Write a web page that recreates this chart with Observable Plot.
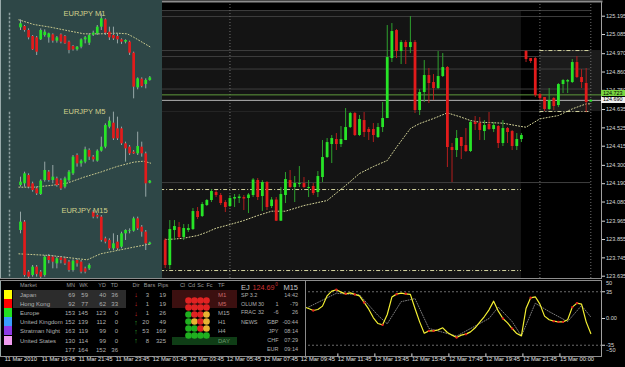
<!DOCTYPE html>
<html><head><meta charset="utf-8">
<script src="https://cdn.jsdelivr.net/npm/d3@7"></script>
<script src="https://cdn.jsdelivr.net/npm/@observablehq/plot@0.6"></script>
<style>
html,body{margin:0;padding:0;background:#000;}
#wrap{position:relative;width:625px;height:367px;overflow:hidden;background:#000;font-family:"Liberation Sans",Arial,sans-serif;}
#wrap svg{position:absolute;}
.box{position:absolute;}
</style></head><body><div id="wrap"></div>
<script>
// ---------- main chart: EURJPY M15 candles (bar index 0..92) ----------
const barOpen = [123.849,123.699,123.909,123.927,123.867,123.909,123.915,124.023,123.993,124.059,
124.089,124.137,124.119,124.077,124.053,124.098,124.101,124.107,124.101,124.119,
124.209,124.113,124.197,124.053,124.092,123.965,124.119,124.209,124.167,124.185,
124.191,124.161,124.173,124.137,124.227,124.347,124.425,124.455,124.425,124.449,
124.527,124.611,124.479,124.569,124.515,124.515,124.467,124.527,124.581,124.941,
125.109,124.983,125.037,125.007,125.037,124.629,124.737,124.839,124.797,124.761,
124.833,124.887,124.407,124.389,124.467,124.419,124.383,124.557,124.551,124.503,
124.545,124.515,124.533,124.431,124.521,124.503,124.413,124.455,124.983,124.941,
124.941,124.725,124.707,124.635,124.701,124.659,124.785,124.800,124.797,124.917,
124.827,124.791,124.680];
const barClose = [123.699,123.915,123.933,123.867,123.921,123.921,124.023,123.987,124.065,124.089,
124.143,124.119,124.071,124.047,124.101,124.107,124.110,124.098,124.122,124.212,
124.107,124.197,124.047,124.092,123.965,124.125,124.215,124.167,124.191,124.191,
124.167,124.167,124.131,124.233,124.347,124.437,124.461,124.425,124.455,124.527,
124.611,124.479,124.575,124.497,124.497,124.479,124.527,124.581,124.947,125.103,
124.983,125.037,125.007,125.037,124.629,124.737,124.839,124.791,124.761,124.833,
124.887,124.407,124.389,124.461,124.413,124.383,124.557,124.545,124.509,124.539,
124.515,124.539,124.431,124.521,124.497,124.413,124.455,124.479,124.935,124.923,
124.719,124.701,124.635,124.689,124.653,124.785,124.809,124.809,124.917,124.827,
124.797,124.677,124.690];
const barHigh = [123.861,123.969,123.969,123.957,123.945,123.945,124.041,124.047,124.077,124.095,
124.155,124.149,124.131,124.089,124.119,124.125,124.125,124.119,124.131,124.221,
124.221,124.209,124.203,124.107,124.107,124.167,124.257,124.269,124.233,124.293,
124.227,124.209,124.191,124.263,124.449,124.461,124.479,124.491,124.533,124.641,
124.617,124.617,124.599,124.617,124.527,124.551,124.551,124.677,125.139,125.151,
125.115,125.049,125.049,125.193,125.049,124.755,124.929,124.881,124.845,124.983,
124.971,124.893,124.431,124.509,124.467,124.521,124.569,124.593,124.587,124.569,
124.617,124.557,124.539,124.569,124.527,124.509,124.491,124.491,124.989,124.941,
124.947,124.731,124.707,124.761,124.707,124.791,124.815,124.815,124.935,124.953,
124.875,124.881,124.695];
const barLow = [123.681,123.675,123.849,123.855,123.849,123.897,123.909,123.975,123.987,124.053,
124.077,124.107,124.059,124.017,124.047,124.047,124.071,124.029,124.011,124.107,
124.089,124.023,124.029,124.041,123.963,123.963,124.071,124.161,124.077,124.167,
124.161,124.107,124.119,124.107,124.197,124.341,124.311,124.389,124.407,124.449,
124.521,124.473,124.473,124.467,124.449,124.437,124.461,124.497,124.581,124.917,
124.941,124.905,124.905,124.971,124.611,124.599,124.677,124.671,124.689,124.755,
124.827,124.287,124.197,124.347,124.335,124.377,124.377,124.509,124.449,124.449,
124.509,124.497,124.401,124.413,124.431,124.389,124.389,124.437,124.917,124.911,
124.707,124.689,124.623,124.629,124.629,124.647,124.731,124.731,124.791,124.821,
124.761,124.617,124.677];
const maBar = [0,2,4,7,9,11,14,17,20,23,26,30,35,39,42,45,48,50,53,55,58,61,64,66,68,73,77,78,81,85,88,91,92];
const maVal = [123.855,123.858,123.863,123.879,123.899,123.923,123.945,123.969,123.999,124.025,124.025,124.059,124.089,124.179,124.251,124.293,124.329,124.409,124.521,124.551,124.581,124.615,124.589,124.569,124.559,124.553,124.533,124.529,124.579,124.599,124.639,124.669,124.669];
const yTicks = [125.195,125.085,124.970,124.860,124.750,124.635,124.525,124.415,124.300,124.190,124.080,123.965,123.855,123.745,123.635];
const gridLevels = [125.229,125.193,124.989,124.953,124.878,124.758,124.197];
const faintLevels = [124.623];
const askPrice = 124.723, bidPrice = 124.690;
const sessionBox = {start:-36, end:77, low:123.62, high:125.229};
const sessionLines = [124.155, 123.669];
const rangeBox = {start:81, end:94.3, lineEnd:92, low:124.623, high:124.989};
const vLines = [14, 81, 92];
const timeLabels = ["11 Mar 2010","11 Mar 19:45","11 Mar 21:45","11 Mar 23:45","12 Mar 01:45","12 Mar 03:45","12 Mar 05:45","12 Mar 07:45","12 Mar 09:45","12 Mar 11:45","12 Mar 13:45","12 Mar 15:45","12 Mar 17:45","12 Mar 19:45","12 Mar 21:45","15 Mar 00:00"];
const timeBars = [-35,-27,-19,-11,-3,5,13,21,29,37,45,53,61,69,77,85];

// ---------- oscillator ----------
const oscStart = 30;
const oscVal = [15.3,13.1,10.5,11.8,16.2,29.7,35.8,37.6,34.5,32.3,
33.6,31.5,29.7,21.0,12.2,0.9,-6.6,-8.3,5.2,28.0,
31.9,33.2,32.3,31.5,13.1,-4.4,-19.2,-16.2,-16.2,-14.9,
-12.2,-18.3,-21.8,-24.9,-21.8,-20.5,-17.5,-12.2,-4.8,2.6,
11.4,22.7,9.6,0,-5.7,-13.1,-19.7,-22.7,13.1,27.1,
28.4,18.8,3.1,-1.7,-3.5,-4.4,-4.4,-1.7,14.9,20.1,
18.8,-4.4,-19.7];
const oscRedBars = [32,37,39,41,43,47,50,52,57,58,63,65,73,75,79,84,85,86,88,89];
const sigBar = [31,37,42,46,48,51,54,57,63,70,72,75,77,80,83,87,90,92];
const sigVal = [15,33,31,4,-7,22,26,-13,-23,0,15,-4,-23,20,9,-4,17,2];
const oscLevels = [35,-35];

// ---------- mini charts (relative levels, [open, close, high, low]) ----------
const m1Bars = [[218,230,242,210],[222,210,225,205],[210,188,215,182],[192,152,195,150],[188,145,192,135],[182,210,215,180],[195,205,212,190],[188,200,202,172],[197,178,200,172],[178,188,192,172],[197,175,200,170],[192,170,195,168],[175,150,178,140],[162,152,165,148],[152,160,162,148],[160,182,185,155],[182,188,192,170],[172,195,200,165],[196,202,208,192],[200,220,225,195],[220,245,260,210],[242,202,245,195],[205,188,220,180],[195,185,220,180],[192,182,200,170],[182,175,185,168],[175,180,182,170],[175,142,178,135],[142,40,145,5],[38,65,68,32],[64,42,68,38],[48,60,65,35],[60,68,72,58]];
const m1MA = [[-0.4,242],[3.3,228],[7.4,220],[11.5,210],[15.7,200],[19.8,200],[23.9,202],[26.4,200],[28,190],[32.2,160]];
const m5Bars = [[45,55,70,40],[50,80,85,40],[75,40,80,35],[50,30,55,25],[35,20,40,15],[18,58,62,15],[60,90,115,55],[85,60,90,55],[60,70,105,50],[65,45,70,40],[60,35,65,30],[40,65,70,35],[60,85,90,55],[80,130,135,75],[135,110,140,100],[110,118,122,100],[115,152,160,110],[150,130,155,120],[130,122,135,115],[118,148,152,115],[148,160,190,145],[160,225,230,155],[220,238,250,215],[232,185,265,180],[215,185,250,180],[215,170,220,165],[170,155,175,115],[160,140,165,135],[145,140,150,138],[140,162,205,135],[160,140,175,130],[140,50,145,10],[52,58,60,50]];
const m5MA = [[-0.4,40],[3.3,40],[7.4,45],[11.5,52],[15.7,70],[19.8,85],[23.9,102],[28,115],[30.5,118],[32.2,112]];
const m15Bars = [[150,175,205,140],[175,15,180,10],[25,10,30,5],[15,40,45,10],[40,18,45,10],[25,10,30,5],[15,70,75,10],[72,60,78,50],[70,55,75,35],[50,65,70,35],[68,60,72,50],[65,50,70,45],[55,30,60,25],[30,58,62,25],[60,50,65,40],[55,25,60,20],[35,25,40,20],[35,45,50,30],[205,190,210,185],[195,190,200,185],[190,120,195,115],[125,115,130,110],[120,95,125,90],[95,110,140,90],[115,95,135,90],[100,140,145,95],[140,150,152,120],[148,150,155,140],[148,185,190,145],[185,155,190,150],[160,145,165,130],[145,110,150,90],[108,112,115,105]];
const m15MA = [[-0.4,80],[7.4,75],[16.5,62],[19.8,80],[23.9,90],[28,100],[32.2,110]];

// ---------- table ----------
const tableHeader = ["Market","MN","WK","YD","TD","Dir","Bars","Pips","Cl","Cd","Sc","Fc","TF"];
const markets = ["Japan","Hong Kong","Europe","United Kingdom","Stratman Night","United States"];
const marketColors = ["#ffff00","#ff0000","#22e022","#3a9cff","#8e3ae6","#f09cf0"];
const colMN = [69,92,153,152,163,130];
const colWK = [59,77,145,139,119,114];
const colYD = [40,62,123,112,99,99];
const colTD = [36,33,0,0,0,0];
const totals = [177,164,152,36];
const dirUp = [false,false,false,true,true,true];
const barsCount = [3,1,1,20,53,8];
const pipsCount = [19,19,26,49,169,325];
const timeframes = ["M1","M5","M15","H1","H4","DAY"];
const signalCols = ["Cl","Cd","Sc","Fc"];
const signals = [["r","r","r","r"],["r","r","r","r"],["g","r","r","o"],["g","o","r","o"],["g","g","r","o"],["g","g","g","g"]];
const infoRows = [["OLUM","30","1","-79"],["FRAC","32","-6","26"],["NEWS","","GBP","-00:44"],["","","JPY","08:14"],["","","CHF","07:29"],["","","EUR","09:14"]];

// ================= drawing =================
const wrap = document.getElementById("wrap");
const FONT = "Liberation Sans, Arial, sans-serif";
const up = "#27e427", dn = "#e21b1b";
const candles = barOpen.map((o,i)=>({i, o, c: barClose[i], h: barHigh[i], l: barLow[i]}));
const place = (el, left, top) => { el.style.left = left+"px"; el.style.top = top+"px"; wrap.appendChild(el); return el; };

const main = Plot.plot({
  width: 625, height: 280, marginLeft: 0, marginRight: 24, marginTop: 1, marginBottom: 2,
  style: {background: "transparent", fontFamily: FONT},
  x: {domain: [0, 92], range: [164.7, 590.3], axis: null},
  y: {domain: [123.635, 125.195], range: [275.7, 15.7], axis: null},
  marks: [
    Plot.rect([sessionBox], {x1: "start", x2: "end", y1: "low", y2: "high", fill: "#141414"}),
    Plot.rect([rangeBox], {x1: "start", x2: "end", y1: "low", y2: "high", fill: "#1b1b1b"}),
    Plot.ruleY(gridLevels, {x1: sessionBox.start, x2: 92, stroke: "#3e3e3e"}),
    Plot.ruleY(faintLevels, {x1: sessionBox.start, x2: 92, stroke: "#262626"}),
    Plot.ruleX(vLines, {stroke: "#707070", strokeDasharray: "1,2"}),
    Plot.ruleY(sessionLines, {x1: sessionBox.start, x2: sessionBox.end, stroke: "#d6d6a0", strokeDasharray: "4,2,1,2"}),
    Plot.ruleY([rangeBox.low, rangeBox.high], {x1: rangeBox.start, x2: rangeBox.lineEnd, stroke: "#d6d6a0", strokeDasharray: "4,2,1,2"}),
    Plot.ruleY([askPrice], {stroke: "#5f9a3c"}),
    Plot.ruleY([bidPrice], {stroke: "#b4b4b4"}),
    Plot.line(maBar.map((b,k)=>({b, v: maVal[k]})), {x: "b", y: "v", stroke: "#d8d89c", strokeWidth: 1, strokeDasharray: "1,2"}),
    Plot.ruleX(candles, {x: "i", y1: "l", y2: "h", stroke: d => d.c >= d.o ? "#2ea02e" : "#b21e1e", strokeWidth: 1}),
    Plot.ruleX(candles, {x: "i", y1: "o", y2: "c", stroke: d => d.c >= d.o ? up : dn, strokeWidth: 2.8}),
    Plot.frame({anchor: "right", stroke: "#a0a0a0"}),
    Plot.frame({anchor: "top", stroke: "#8c8c8c", strokeWidth: 2}),
    Plot.frame({anchor: "bottom", stroke: "#8c8c8c"}),
    Plot.axisY({ticks: yTicks, anchor: "right", label: null, tickSize: 3, tickPadding: 1.5, fontSize: 5.6, tickFormat: d3.format(".3f"), color: "#d8d8d8"})
  ]
});
place(main, 0, 0);

const oscData = oscVal.map((v,k)=>({b: oscStart + k, v}));
const oscMap = new Map(oscData.map(d=>[d.b, d.v]));
const timeMap = new Map(timeBars.map((b,i)=>[b, timeLabels[i]]));
const osc = Plot.plot({
  width: 625, height: 89, marginLeft: 0, marginRight: 24, marginTop: 2, marginBottom: 11,
  style: {background: "transparent", fontFamily: FONT},
  x: {domain: [0, 92], range: [164.7, 590.3], axis: null},
  y: {domain: [-50, 50], range: [78.2, 1.8], axis: null},
  marks: [
    Plot.ruleY(oscLevels, {stroke: "#6a6a6a", strokeDasharray: "2,2"}),
    Plot.line(sigBar.map((b,k)=>({b, v: sigVal[k]})), {x: "b", y: "v", stroke: "#9a9a9a", strokeDasharray: "1,1.5", strokeWidth: 0.8}),
    Plot.line(oscData, {x: "b", y: "v", stroke: "#f4f032", strokeWidth: 1.2}),
    Plot.dot(oscRedBars.map(b=>({b, v: oscMap.get(b)})), {x: "b", y: "v", r: 1.2, fill: "#e02020"}),
    Plot.frame({anchor: "right", stroke: "#a0a0a0"}),
    Plot.frame({anchor: "top", stroke: "#8c8c8c"}),
    Plot.frame({anchor: "bottom", stroke: "#8c8c8c"}),
    Plot.axisY({ticks: [35, 0, -35], anchor: "right", label: null, tickSize: 3, tickPadding: 1.5, fontSize: 5.6, tickFormat: d => d === 0 ? "0.00" : String(d), color: "#d8d8d8"}),
    Plot.axisY({ticks: [50], anchor: "right", label: null, tickSize: 0, tickPadding: 4.5, fontSize: 5.6, dy: 2.5, color: "#d8d8d8"}),
    Plot.axisY({ticks: [-50], anchor: "right", label: null, tickSize: 0, tickPadding: 4.5, fontSize: 5.6, dy: -6.5, color: "#d8d8d8"}),
    Plot.axisX({ticks: timeBars, anchor: "bottom", label: null, tickSize: 3, tickPadding: 0, tickFormat: d => timeMap.get(d), textAnchor: "start", dx: 1.5, dy: -2.6, fontSize: 5.8, color: "#e0e0e0"})
  ]
});
place(osc, 0, 278);

// ---------- left panel with mini charts ----------
const panel = document.createElement("div");
panel.className = "box";
panel.style.cssText += "width:162px;height:278px;background:#2e4747;border-left:1px solid #9aa;box-sizing:border-box;";
place(panel, 0, 0);
function mini(rows, ma, title, top, yRange, mTop, mBottom, titleDy) {
  const data = rows.map((r,i)=>({i, o:r[0], c:r[1], h:r[2], l:r[3]}));
  const p = Plot.plot({
    width: 162, height: 100, marginLeft: 9, marginRight: 0, marginTop: mTop, marginBottom: mBottom,
    style: {background: "transparent", fontFamily: FONT, overflow: "visible"},
    x: {domain: [0, 32], range: [20, 149.3], axis: null},
    y: {domain: [0, 300], range: yRange, axis: null},
    marks: [
      Plot.frame({anchor: "left", stroke: "#8a9c9c", strokeWidth: 1.5, strokeDasharray: "1,3"}),
      Plot.line(ma.map(d=>({x: d[0], v: d[1]})), {x: "x", y: "v", stroke: "#c9c98e", strokeWidth: 1, strokeDasharray: "1,2"}),
      Plot.ruleX(data, {x: "i", y1: "l", y2: "h", stroke: "#97a7a7", strokeWidth: 1}),
      Plot.ruleX(data, {x: "i", y1: "o", y2: "c", stroke: d => d.c >= d.o ? up : dn, strokeWidth: 2.7}),
      Plot.text([title], {frameAnchor: "top", dx: -1.5, dy: titleDy, fill: "#d2d28c", fontSize: 7.5})
    ]
  });
  place(p, 0, top);
}
mini(m1Bars, m1MA, "EURJPY M1", 0, [100, 0], 13, 2, -3);
mini(m5Bars, m5MA, "EURJPY M5", 100, [100, 0], 12, 3, -3.7);
mini(m15Bars, m15MA, "EURJPY M15", 178, [102, 2], 32, 1, -3.3);

// price boxes on the axis
const ys = main.scale("y");
function priceBox(price, bg, h, off) {
  const d = document.createElement("div");
  d.className = "box";
  d.textContent = price.toFixed(3);
  d.style.cssText += `width:24px;height:${h}px;background:${bg};color:#000;font-size:5.4px;line-height:${h}px;padding-left:2px;box-sizing:border-box;overflow:hidden;`;
  place(d, 601, ys.apply(price) - off);
}
priceBox(askPrice, "#78d640", 6, 4);
priceBox(bidPrice, "#f0f0f0", 5.5, 2.6);

// ---------- table ----------
const tbl = document.createElement("div");
tbl.className = "box";
tbl.style.cssText += "width:306px;height:75px;background:#000;border-left:1px solid #9aa;border-right:1px solid #8a8a8a;box-sizing:border-box;";
place(tbl, 0, 281);
function rect(x, y, w, h, bg) { const d = document.createElement("div"); d.className = "box"; d.style.cssText += `width:${w}px;height:${h}px;background:${bg};`; place(d, x, y); }
function txt(s, x, cy, o = {}) {
  const el = document.createElement("div");
  const size = o.size || 6;
  el.className = "box";
  el.textContent = s;
  el.style.cssText += `white-space:nowrap;font-size:${size}px;line-height:${size}px;color:${o.color || "#b0b0b0"};`;
  wrap.appendChild(el);
  el.style.top = (cy - size / 2) + "px";
  if (o.align === "right") el.style.right = (625 - x) + "px";
  else if (o.align === "center") { el.style.left = x + "px"; el.style.transform = "translateX(-50%)"; }
  else el.style.left = x + "px";
  return el;
}
rect(13, 290, 113, 18, "#2c2c2c");
rect(172, 290, 65, 18, "#3c1010");
rect(172, 336.5, 65, 8.5, "#0f3d16");
const rowY = [294.7, 303.7, 313, 322.3, 331.3, 340.7];
const headerY = 285.3, totalY = 350;
const hc = "#9c9c9c", hs = 5.5;
txt(tableHeader[0], 20, headerY, {color: hc, size: hs});
txt(tableHeader[1], 75, headerY, {color: hc, size: hs, align: "right"});
txt(tableHeader[2], 88, headerY, {color: hc, size: hs, align: "right"});
txt(tableHeader[3], 106, headerY, {color: hc, size: hs, align: "right"});
txt(tableHeader[4], 118, headerY, {color: hc, size: hs, align: "right"});
txt(tableHeader[5], 136, headerY, {color: hc, size: hs, align: "center"});
txt(tableHeader[6], 149.5, headerY, {color: hc, size: hs, align: "center"});
txt(tableHeader[7], 163, headerY, {color: hc, size: hs, align: "center"});
[182.5, 191.5, 200.5, 209.5].forEach((x, k) => txt(tableHeader[8 + k], x, headerY, {color: hc, size: hs, align: "center"}));
txt(tableHeader[12], 218, headerY, {color: hc, size: hs});
markets.forEach((m, i) => {
  const y = rowY[i];
  rect(4, 290 + i * 9.1, 8, 9.1, marketColors[i]);
  txt(m, 20, y);
  txt(String(colMN[i]), 75, y, {align: "right"});
  txt(String(colWK[i]), 88, y, {align: "right"});
  txt(String(colYD[i]), 106, y, {align: "right"});
  txt(String(colTD[i]), 118, y, {align: "right"});
  txt(dirUp[i] ? "↑" : "↓", 136, y, {align: "center", color: dirUp[i] ? "#2fb02f" : "#d23030", size: 7});
  txt(String(barsCount[i]), 149, y, {align: "right"});
  txt(String(pipsCount[i]), 166, y, {align: "right"});
  txt(timeframes[i], 218, y, {color: i < 2 ? "#c86a6a" : (i === 5 ? "#6f9a6f" : "#a8a8a8")});
});
txt(String(totals[0]), 75, totalY, {align: "right"});
txt(String(totals[1]), 88, totalY, {align: "right"});
txt(String(totals[2]), 106, totalY, {align: "right"});
txt(String(totals[3]), 118, totalY, {align: "right"});

// signal dots via Plot point scales
const dotData = [];
signals.forEach((row, i) => row.forEach((s, k) => dotData.push({tf: timeframes[i], col: signalCols[k], s})));
const dotColor = {r: "#e02222", g: "#1fb01f", o: "#e8b232"};
const dots = Plot.plot({
  width: 305, height: 76, margin: 0,
  style: {background: "transparent"},
  x: {type: "point", domain: signalCols, range: [184.3, 209.2], axis: null},
  y: {type: "point", domain: timeframes, range: [14.7, 60.7], axis: null},
  marks: [Plot.dot(dotData, {x: "col", y: "tf", r: 3.3, fill: d => dotColor[d.s]})]
});
place(dots, 0, 280);

// info block
txt("EJ", 241, 287.5, {size: 7.5, color: "#c8c8c8"});
txt("124.69", 252.5, 287.5, {size: 7.2, color: "#d23232"});
txt("0", 275.3, 285.5, {size: 4.5, color: "#d23232"});
txt("M15", 298, 287.5, {size: 7.5, color: "#c8c8c8", align: "right"});
txt("SP 3.2", 241, 295.7, {size: 5.5, color: "#b0b0b0"});
txt("14:42", 298, 295.7, {size: 5.5, color: "#b0b0b0", align: "right"});
const infoY = [304.3, 313, 322.3, 331.3, 340.7, 350];
infoRows.forEach((r, i) => {
  if (r[0]) txt(r[0], 241, infoY[i], {size: 5.5});
  if (r[1]) txt(r[1], 264, infoY[i], {size: 5.5, align: "right"});
  if (r[2]) txt(r[2], 278.5, infoY[i], {size: 5.5, align: "right"});
  if (r[3]) txt(r[3], 298, infoY[i], {size: 5.5, align: "right"});
});
</script></body></html>
